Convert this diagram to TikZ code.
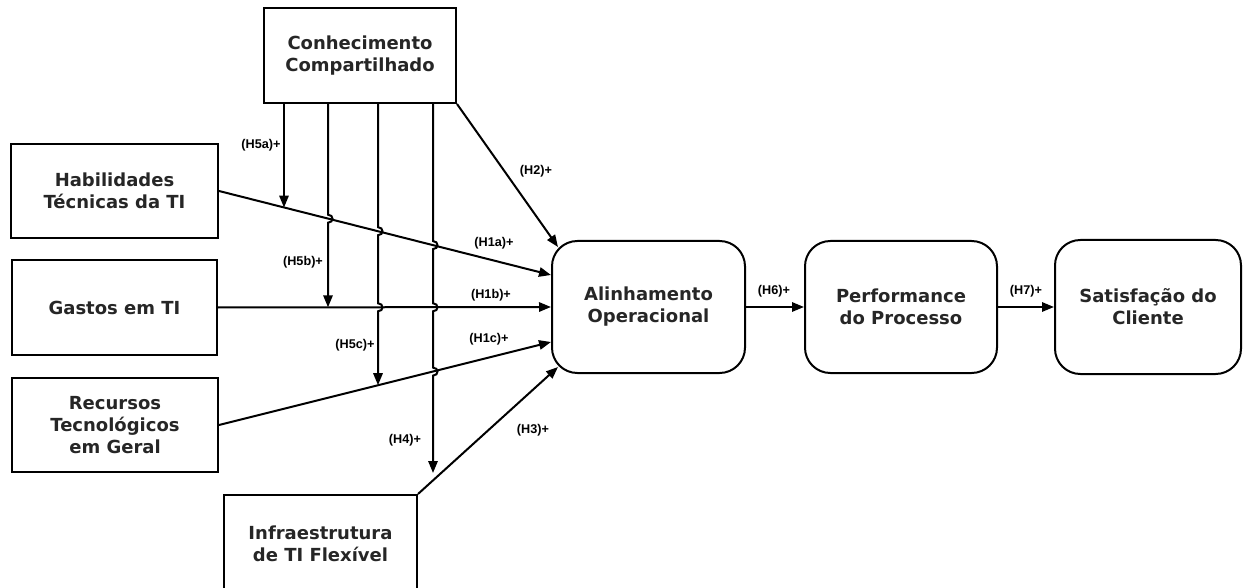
\documentclass[tikz,border=0pt]{standalone}
\usepackage{fontspec}
\setmainfont{DejaVu Sans}
\newfontfamily\hypfont{Liberation Sans}
\usetikzlibrary{arrows.meta,calc}
% small bump where a vertical line jumps over another line
\newcommand{\hop}[2]{-- (#1,#2-4) .. controls (#1+6,#2-4) and (#1+6,#2+4) .. (#1,#2+4)}
\begin{document}
\begin{tikzpicture}[
  x=0.75pt, y=-0.75pt,
  box/.style={
    draw,
    line width=1.5pt,
    align=center,
    inner sep=0pt,
    text=black!85,
    font=\bfseries\fontsize{13.5}{16.5}\selectfont
  },
  rbox/.style={box, rounded corners=19pt},
  arrow/.style={-{Triangle[length=9pt,width=7pt]}, line width=1.5pt},
  hyp/.style={inner sep=0pt, font=\hypfont\bfseries\fontsize{9.5}{10}\selectfont}
]
\useasboundingbox (0,0) rectangle (1243,588);
\clip (0,0) rectangle (1243,588);

\node[box, minimum width=144pt, minimum height=71.25pt] (conh) at (360,55.5) {Conhecimento\\Compartilhado};
\node[box, minimum width=155.25pt, minimum height=70.5pt] (hab) at (114.5,191) {Habilidades\\Técnicas da TI};
\node[box, minimum width=153.75pt, minimum height=71.25pt] (gas) at (114.5,307.5) {Gastos em TI};
\node[box, minimum width=154.5pt, minimum height=70.5pt] (rec) at (115,425) {Recursos\\Tecnológicos\\em Geral};
\node[box, minimum width=144.75pt, minimum height=73.5pt] (infra) at (320.5,544) {Infraestrutura\\de TI Flexível};
\node[rbox, minimum width=144.75pt, minimum height=99pt] (ali) at (648.5,307) {Alinhamento\\Operacional};
\node[rbox, minimum width=144pt, minimum height=99pt] (perf) at (901,307) {Performance\\do Processo};
\node[rbox, minimum width=139.5pt, minimum height=100.5pt] (sat) at (1148,307) {Satisfação do\\Cliente};

% ends of the moderating arrows
\coordinate (m5a) at (284,207.6);
\coordinate (m5b) at (328,307.3);
\coordinate (m5c) at (378,385.2);
\coordinate (m4) at (433,473);

\draw[arrow] (hab.east) -- ($(ali.west)+(0,-32)$);
\draw[arrow] (gas.east) -- (ali.west);
\draw[arrow] (rec.east) -- ($(ali.west)+(0,35)$);
\draw[arrow] (conh.south east) -- ($(ali.north west)+(7,7)$);
\draw[arrow] (infra.north east) -- ($(ali.south west)+(7,-7)$);
\draw[arrow] (ali.east) -- (perf.west);
\draw[arrow] (perf.east) -- (sat.west);

\draw[arrow] (conh.south -| m5a) -- (m5a);
\draw[arrow] (conh.south -| m5b) \hop{328}{218.7} -- (m5b);
\draw[arrow] (conh.south -| m5c) \hop{378}{231.2} \hop{378}{307.3} -- (m5c);
\draw[arrow] (conh.south -| m4) \hop{433}{245.1} \hop{433}{307.3} \hop{433}{371.6} -- (m4);

\node[hyp] (l5a) at (261,145) {(H5a)+};
\node[hyp] (l5b) at (303,262) {(H5b)+};
\node[hyp] (l5c) at (355,345) {(H5c)+};
\node[hyp] (l4) at (405,440) {(H4)+};
\node[hyp] (l2) at (536,171) {(H2)+};
\node[hyp] (l1a) at (494,243) {(H1a)+};
\node[hyp] (l1b) at (491,295) {(H1b)+};
\node[hyp] (l1c) at (489,339) {(H1c)+};
\node[hyp] (l3) at (533,430) {(H3)+};
\node[hyp] (l6) at (774,291) {(H6)+};
\node[hyp] (l7) at (1026,291) {(H7)+};
\end{tikzpicture}
\end{document}
